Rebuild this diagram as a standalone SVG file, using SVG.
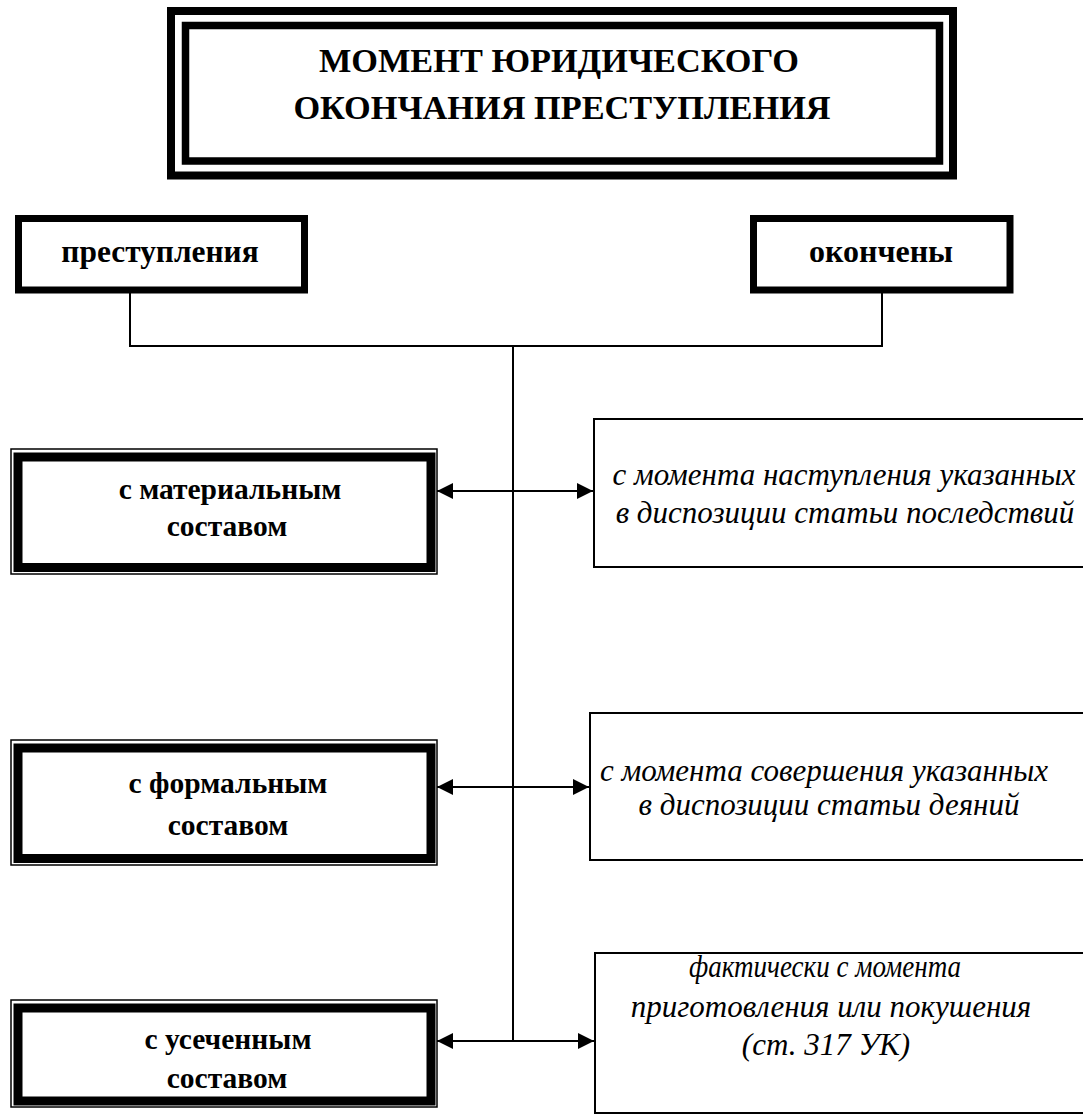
<svg xmlns="http://www.w3.org/2000/svg" width="1083" height="1117" viewBox="0 0 1083 1117">
<defs>
<marker id="ah" viewBox="0 0 16 16" refX="16" refY="8" markerWidth="16" markerHeight="16" markerUnits="userSpaceOnUse" orient="auto-start-reverse">
<path d="M0,0 L16,8 L0,16 Z" fill="#000"/>
</marker>
</defs>
<style>
text{font-family:'Liberation Serif','DejaVu Serif',serif}
.bold{font-weight:bold;fill:#000;text-anchor:middle}
.lbl{font-size:29.5px}
.ital{font-style:italic;fill:#000;text-anchor:middle;font-size:31px}
.thick{fill:#fff;stroke:#000;stroke-width:9}
.thin{fill:none;stroke:#000;stroke-width:1.5}
.head{fill:#fff;stroke:#000;stroke-width:7}
.rbox{fill:#fff;stroke:#000;stroke-width:2}
.line{fill:none;stroke:#000;stroke-width:2}
</style>
<rect width="1083" height="1117" fill="#fff"/>
<g id="title">
<rect x="171" y="11" width="782" height="164.5" fill="#fff" stroke="#000" stroke-width="8"/>
<rect x="185.5" y="25.5" width="754" height="135.5" fill="#fff" stroke="#000" stroke-width="7.5"/>
<text class="bold" font-size="34.3" x="559" y="72">МОМЕНТ ЮРИДИЧЕСКОГО</text>
<text class="bold" font-size="34.3" x="562" y="119">ОКОНЧАНИЯ ПРЕСТУПЛЕНИЯ</text>
</g>
<g id="connectors">
<polyline class="line" points="130,290 130,346 882,346 882,290"/>
<line class="line" x1="513" y1="346" x2="513" y2="1041"/>
<line class="line" x1="437" y1="491" x2="593" y2="491" marker-start="url(#ah)" marker-end="url(#ah)"/>
<line class="line" x1="437" y1="787" x2="589" y2="787" marker-start="url(#ah)" marker-end="url(#ah)"/>
<line class="line" x1="437" y1="1041" x2="594" y2="1041" marker-start="url(#ah)" marker-end="url(#ah)"/>
</g>
<g id="crimes">
<rect class="head" x="18.5" y="218.5" width="286" height="71.5"/>
<text class="bold" font-size="31.4" x="160" y="262">преступления</text>
</g>
<g id="finished">
<rect class="head" x="753.5" y="218.5" width="256.5" height="71.5"/>
<text class="bold" font-size="32" x="881" y="262">окончены</text>
</g>
<g id="material">
<rect class="thin" x="11" y="449" width="426" height="125"/>
<rect class="thick" x="18" y="457" width="413" height="110.5"/>
<text class="bold lbl" x="230" y="499">с материальным</text>
<text class="bold lbl" x="227" y="536">составом</text>
</g>
<g id="formal">
<rect class="thin" x="11" y="740" width="426" height="125"/>
<rect class="thick" x="18" y="748" width="413" height="110.5"/>
<text class="bold lbl" x="228" y="793">с формальным</text>
<text class="bold lbl" x="228" y="835">составом</text>
</g>
<g id="truncated">
<rect class="thin" x="11" y="1000" width="426" height="107"/>
<rect class="thick" x="18" y="1008" width="413" height="93"/>
<text class="bold lbl" x="228" y="1049">с усеченным</text>
<text class="bold lbl" x="227" y="1088">составом</text>
</g>
<g id="material-desc">
<rect class="rbox" x="594" y="419" width="500" height="148"/>
<text class="ital" x="844" y="485">с момента наступления указанных</text>
<text class="ital" x="845" y="523">в диспозиции статьи последствий</text>
</g>
<g id="formal-desc">
<rect class="rbox" x="590" y="713" width="500" height="147"/>
<text class="ital" x="824" y="781">с момента совершения указанных</text>
<text class="ital" x="829" y="815">в диспозиции статьи деяний</text>
</g>
<g id="truncated-desc">
<rect class="rbox" x="595" y="953" width="500" height="160"/>
<text class="ital" x="825" y="977" textLength="272" lengthAdjust="spacingAndGlyphs">фактически с момента</text>
<text class="ital" x="831" y="1017">приготовления или покушения</text>
<text class="ital" x="826" y="1055">(ст. 317 УК)</text>
</g>
</svg>
